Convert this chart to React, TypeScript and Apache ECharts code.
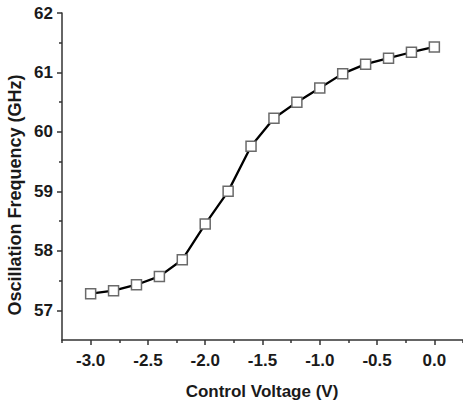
import React, { useEffect, useRef } from "react";
import * as echarts from "echarts";

const voltage = [-3.0, -2.8, -2.6, -2.4, -2.2, -2.0, -1.8, -1.6, -1.4, -1.2, -1.0, -0.8, -0.6, -0.4, -0.2, 0.0];
const frequency = [57.28, 57.33, 57.43, 57.57, 57.85, 58.45, 59.0, 59.76, 60.23, 60.5, 60.74, 60.98, 61.14, 61.24, 61.34, 61.43];
const xMajorTicks = [-3.0, -2.5, -2.0, -1.5, -1.0, -0.5, 0.0];
const xMinorTicks = [-3.25, -2.75, -2.25, -1.75, -1.25, -0.75, -0.25, 0.25];
const yMajorTicks = [57, 58, 59, 60, 61, 62];
const yMinorTicks = [57.5, 58.5, 59.5, 60.5, 61.5];
const xTitle = "Control Voltage (V)";
const yTitle = "Oscillation Frequency (GHz)";

const FONT = '"Liberation Sans", Arial, sans-serif';
const TEXT = "#1a1a1a";
const AXIS = "#333";

export default function App() {
  const ref = useRef<HTMLDivElement>(null);
  useEffect(() => {
    if (!ref.current) return;
    const chart = echarts.init(ref.current, undefined, { renderer: "svg" });
    const labelStyle = { fontFamily: FONT, fontWeight: "bold" as const, fontSize: 17, color: TEXT };
    chart.setOption({
      animation: false,
      backgroundColor: "#fff",
      grid: { left: 62, top: 13, width: 401, bottom: 64, containLabel: false },
      xAxis: [
        {
          type: "value",
          min: -3.25,
          max: 0.25,
          position: "bottom",
          axisLine: { show: true, onZero: false, lineStyle: { color: AXIS, width: 1.5 } },
          axisTick: { show: true, customValues: xMajorTicks, length: 5, lineStyle: { color: AXIS, width: 1.5 } },
          axisLabel: { show: true, customValues: xMajorTicks, margin: 12, formatter: (v: number) => v.toFixed(1), ...labelStyle },
          splitLine: { show: false },
        },
        {
          type: "value",
          min: -3.25,
          max: 0.25,
          position: "bottom",
          axisLine: { show: false, onZero: false },
          axisTick: { show: true, customValues: xMinorTicks, length: 3, lineStyle: { color: AXIS, width: 1.5 } },
          axisLabel: { show: false },
          splitLine: { show: false },
        },
      ],
      yAxis: [
        {
          type: "value",
          min: 56.5,
          max: 62,
          position: "left",
          axisLine: { show: true, onZero: false, lineStyle: { color: AXIS, width: 1.5 } },
          axisTick: { show: true, customValues: yMajorTicks, length: 5, lineStyle: { color: AXIS, width: 1.5 } },
          axisLabel: { show: true, customValues: yMajorTicks, margin: 9, formatter: (v: number) => String(Math.round(v)), ...labelStyle },
          splitLine: { show: false },
        },
        {
          type: "value",
          min: 56.5,
          max: 62,
          position: "left",
          axisLine: { show: false, onZero: false },
          axisTick: { show: true, customValues: yMinorTicks, length: 3, lineStyle: { color: AXIS, width: 1.5 } },
          axisLabel: { show: false },
          splitLine: { show: false },
        },
      ],
      graphic: [
        {
          type: "text",
          x: 262,
          y: 391,
          style: { text: xTitle, font: `bold 17px ${FONT}`, fill: TEXT, textAlign: "center", textVerticalAlign: "middle" },
        },
        {
          type: "text",
          x: 15,
          y: 195,
          rotation: Math.PI / 2,
          style: { text: yTitle, font: `bold 18px ${FONT}`, fill: TEXT, textAlign: "center", textVerticalAlign: "middle" },
        },
      ],
      series: [
        {
          type: "line",
          xAxisIndex: 0,
          yAxisIndex: 0,
          data: voltage.map((v, i) => [v, frequency[i]]),
          lineStyle: { color: "#000", width: 2.3 },
          symbol: "rect",
          symbolSize: 10,
          showSymbol: true,
          itemStyle: { color: "#fff", borderColor: "#6a6a6a", borderWidth: 1.5 },
          z: 3,
        },
      ],
    });
    return () => chart.dispose();
  }, []);
  return <div ref={ref} style={{ position: "absolute", left: 0, top: 0, width: 463, height: 404 }} />;
}
